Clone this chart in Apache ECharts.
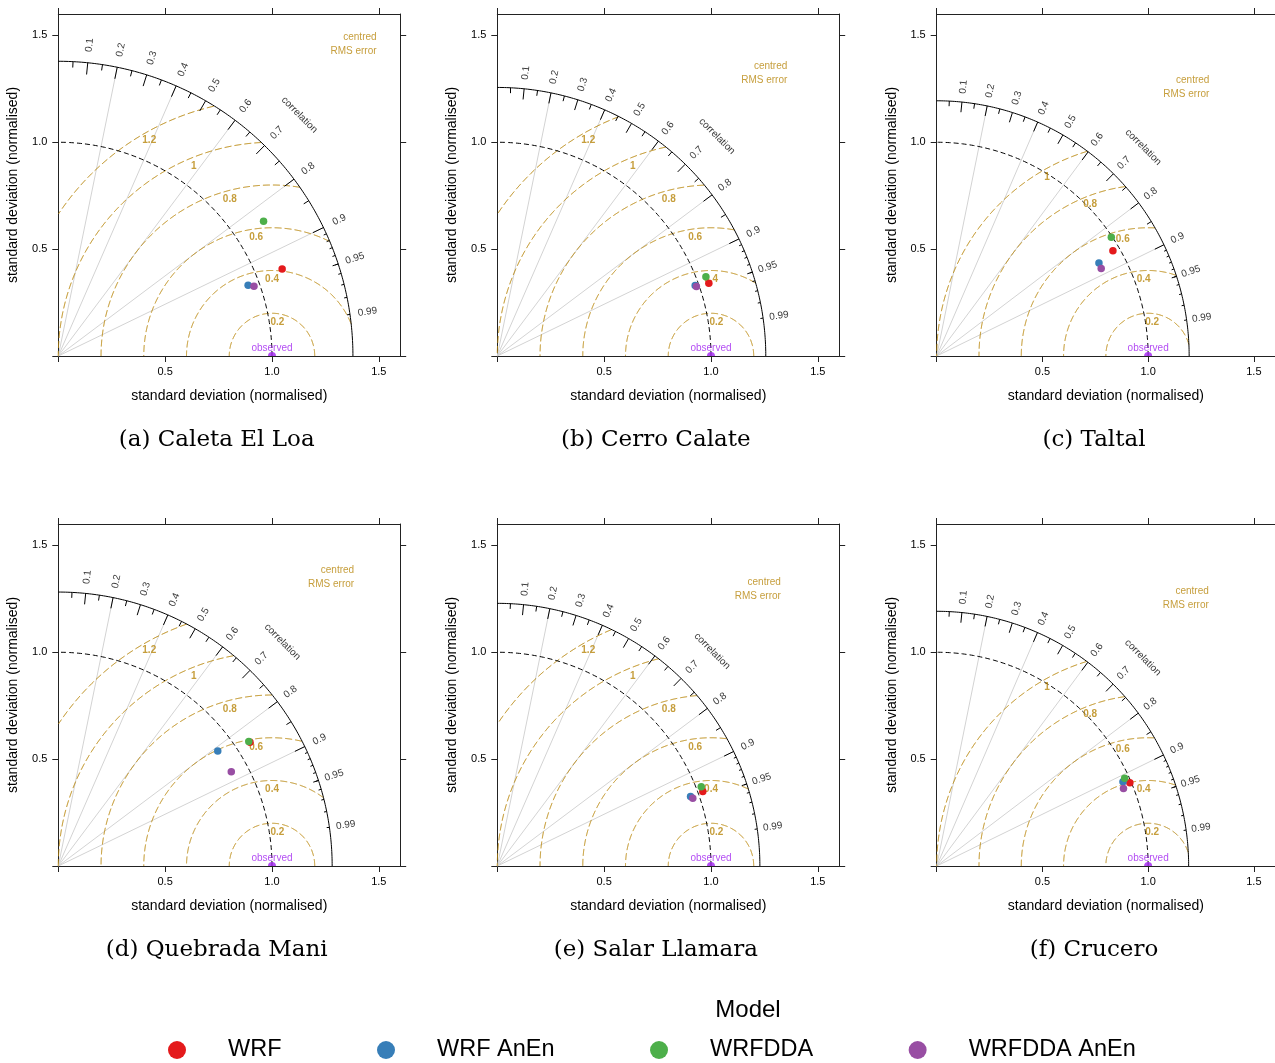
<!DOCTYPE html>
<html><head><meta charset="utf-8">
<script src="https://cdn.jsdelivr.net/npm/echarts@6/dist/echarts.min.js"></script>
<style>html,body{margin:0;padding:0;background:#fff}#c{width:1275px;height:1063px}</style>
</head><body><div id="c"></div>
<script>
// ---------------- data ----------------
const stations = ['(a) Caleta El Loa', '(b) Cerro Calate', '(c) Taltal', '(d) Quebrada Mani', '(e) Salar Llamara', '(f) Crucero'];
const models = ['WRF', 'WRF AnEn', 'WRFDDA', 'WRFDDA AnEn'];
// normalised standard deviation, one value per station
const sdWRF        = [1.124, 1.047, 0.968, 1.068, 1.023, 0.993];
const sdWRFAnEn    = [0.948, 0.983, 0.882, 0.920, 0.961, 0.965];
const sdWRFDDA     = [1.149, 1.044, 0.995, 1.065, 1.024, 0.979];
const sdWRFDDAAnEn = [0.972, 0.987, 0.879, 0.922, 0.968, 0.955];
// correlation with observations, one value per station
const corWRF        = [0.932, 0.9455, 0.861, 0.840, 0.940, 0.920];
const corWRFAnEn    = [0.937, 0.942, 0.870, 0.811, 0.941, 0.913];
const corWRFDDA     = [0.836, 0.935, 0.830, 0.837, 0.932, 0.908];
const corWRFDDAAnEn = [0.942, 0.944, 0.885, 0.878, 0.945, 0.925];
// axis / diagram tick values
const sdTickLabels = [0.5, 1.0, 1.5];
const sdTicks = [0, 0.5, 1.0, 1.5];
const corLabels = [0.1, 0.2, 0.3, 0.4, 0.5, 0.6, 0.7, 0.8, 0.9, 0.95, 0.99];
const corGridLines = [0.2, 0.4, 0.6, 0.8, 0.9];
const corBigTicks = [0.1, 0.2, 0.3, 0.4, 0.5, 0.6, 0.7, 0.8, 0.9];
const corMedTicks = [0.05, 0.15, 0.25, 0.35, 0.45, 0.55, 0.65, 0.75, 0.85, 0.95];
const corSmallTicks = [0.91, 0.92, 0.93, 0.94, 0.95, 0.96, 0.97, 0.98, 0.99];
const rmsStep = 0.2;

// ---------------- style / layout ----------------
const sdSets = [sdWRF, sdWRFAnEn, sdWRFDDA, sdWRFDDAAnEn];
const corSets = [corWRF, corWRFAnEn, corWRFDDA, corWRFDDAAnEn];
const colors = ['#E41A1C', '#377EB8', '#4DAF4A', '#984EA3'];
const GOLD = '#B8860B', OBS = '#A020F0';
const SANS = 'Liberation Sans, Arial, sans-serif';
const AXMAX = 1.6;
const lefts = [58.3, 497.3, 936.7], tops = [14, 524];
const GW = 341.9, GH = 342;
const capX = [216.7, 655.8, 1094], capY = [440, 950];

const grid = [], xAxis = [], yAxis = [], series = [], graphic = [];
const axisLineStyle = {color: '#222', width: 1};

for (let p = 0; p < 6; p++) {
  const col = p % 3, row = Math.floor(p / 3);
  grid.push({left: lefts[col], top: tops[row], width: GW, height: GH, containLabel: false});
  const baseAxis = {
    gridIndex: p, type: 'value', min: 0, max: AXMAX, interval: 0.5,
    axisLine: {show: true, onZero: false, lineStyle: axisLineStyle},
    axisTick: {show: true, inside: false, length: 6, customValues: sdTicks, lineStyle: axisLineStyle},
    splitLine: {show: false}
  };
  xAxis.push(Object.assign({}, baseAxis, {
    position: 'bottom',
    axisLabel: {show: true, customValues: sdTickLabels, formatter: v => v.toFixed(1), margin: 10, fontSize: 11, color: '#000', fontFamily: SANS},
    name: 'standard deviation (normalised)', nameLocation: 'middle', nameGap: 33,
    nameTextStyle: {fontSize: 14, color: '#000', fontFamily: SANS}
  }));
  xAxis.push(Object.assign({}, baseAxis, {position: 'top', axisLabel: {show: false}}));
  yAxis.push(Object.assign({}, baseAxis, {
    position: 'left',
    axisLabel: {show: true, customValues: sdTickLabels, formatter: v => v.toFixed(1), margin: 11, fontSize: 11, color: '#000', fontFamily: SANS},
    name: 'standard deviation (normalised)', nameLocation: 'middle', nameGap: 38,
    nameTextStyle: {fontSize: 14, color: '#000', fontFamily: SANS}
  }));
  yAxis.push(Object.assign({}, baseAxis, {position: 'right', axisLabel: {show: false}}));

  const xi = 2 * p, yi = 2 * p;
  const sds = sdSets.map(s => s[p]);
  const m = 1.2 * Math.max.apply(null, sds); // max radius of diagram

  const pol = (r, a) => [r * Math.cos(a), r * Math.sin(a)];
  const arc = (r) => { const pts = []; for (let i = 0; i <= 180; i++) pts.push(pol(r, Math.PI / 2 * i / 180)); return pts; };

  // grey correlation lines
  series.push({type: 'lines', coordinateSystem: 'cartesian2d', xAxisIndex: xi, yAxisIndex: yi, silent: true, z: 1,
    lineStyle: {color: '#D3D3D3', width: 1, opacity: 1},
    data: corGridLines.map(c => ({coords: [[0, 0], pol(m, Math.acos(c))]}))});

  // centred RMS arcs
  const gammas = [];
  for (let k = 1; k * rmsStep <= m + 1e-9; k++) gammas.push(Math.round(k * rmsStep * 10) / 10);
  const gArcs = gammas.map(g => {
    const pts = [];
    for (let i = 0; i <= 1000; i++) {
      const t = Math.PI * i / 1000;
      const x = 1 + g * Math.cos(t), y = g * Math.sin(t);
      if (x >= 0 && x * x + y * y <= m * m) pts.push([x, y]);
    }
    return {coords: pts};
  });
  series.push({type: 'lines', coordinateSystem: 'cartesian2d', xAxisIndex: xi, yAxisIndex: yi, polyline: true, silent: true, z: 2,
    lineStyle: {color: GOLD, width: 1, type: [7, 3], opacity: 1}, data: gArcs});

  // sd = 1 arc (dashed) and outer arc
  series.push({type: 'lines', coordinateSystem: 'cartesian2d', xAxisIndex: xi, yAxisIndex: yi, polyline: true, silent: true, z: 3,
    lineStyle: {color: '#000', width: 1, type: [5, 3], opacity: 1}, data: [{coords: arc(1)}]});
  series.push({type: 'lines', coordinateSystem: 'cartesian2d', xAxisIndex: xi, yAxisIndex: yi, polyline: true, silent: true, z: 3,
    lineStyle: {color: '#000', width: 1, opacity: 1}, data: [{coords: arc(m)}]});

  // correlation tick marks
  const tk = [];
  corBigTicks.forEach(c => { const a = Math.acos(c); tk.push({coords: [pol(m, a), pol(0.96 * m, a)]}); });
  corMedTicks.forEach(c => { const a = Math.acos(c); tk.push({coords: [pol(m, a), pol(0.98 * m, a)]}); });
  corSmallTicks.forEach(c => { const a = Math.acos(c); tk.push({coords: [pol(m, a), pol(0.99 * m, a)]}); });
  series.push({type: 'lines', coordinateSystem: 'cartesian2d', xAxisIndex: xi, yAxisIndex: yi, silent: true, z: 3,
    lineStyle: {color: '#000', width: 1, opacity: 1}, data: tk});

  const textSeries = (data, label, z) => ({type: 'scatter', xAxisIndex: xi, yAxisIndex: yi, silent: true, z: z || 5,
    symbolSize: 1, itemStyle: {color: 'rgba(0,0,0,0)'}, data: data,
    label: Object.assign({show: true, position: 'inside', formatter: '{b}', fontFamily: SANS}, label)});

  // correlation labels
  series.push(textSeries(corLabels.map(c => {
    const a = Math.acos(c);
    return {name: String(c), value: pol(1.06 * m, a), label: {rotate: a * 180 / Math.PI}};
  }), {fontSize: 10, color: '#000'}));
  series.push(textSeries([{name: 'correlation', value: pol(1.157 * m, Math.PI / 4), label: {rotate: -45}}], {fontSize: 10, color: '#000'}));

  // RMS labels
  const n = gammas.length;
  const aEnd = 118.6, aStart = n >= 6 ? 82.8 : 84.5;
  series.push(textSeries(gammas.map((g, i) => {
    const t = (aStart + (aEnd - aStart) * (n > 1 ? i / (n - 1) : 0)) * Math.PI / 180;
    return {name: String(g), value: [1 + g * Math.cos(t), g * Math.sin(t)]};
  }), {fontSize: 10, fontWeight: 'bold', color: GOLD, offset: [0, 9]}, 4));
  series.push(textSeries([{name: 'centred\nRMS error', value: [1.082 * m, 1.08 * m]}],
    {position: 'left', distance: 0, offset: [0, 7], fontSize: 10, lineHeight: 14, color: GOLD, align: 'right'}));

  // observed
  series.push({type: 'scatter', xAxisIndex: xi, yAxisIndex: yi, silent: true, z: 4,
    symbol: 'path://M-1 0 A1 1 0 0 1 1 0 Z', symbolSize: [8, 4], symbolOffset: [0, -2], symbolKeepAspect: false,
    itemStyle: {color: OBS}, data: [[1, 0]]});
  series.push(textSeries([{name: 'observed', value: [1, 0]}], {fontSize: 10, color: OBS, offset: [0, -8]}, 4));

  // model points
  models.forEach((name, k) => {
    const s = sdSets[k][p], r = corSets[k][p];
    series.push({type: 'scatter', name: name, xAxisIndex: xi, yAxisIndex: yi, z: 6,
      symbol: 'circle', symbolSize: 7.5, itemStyle: {color: colors[k], opacity: 1},
      data: [[s * r, s * Math.sqrt(1 - r * r)]]});
  });

  graphic.push({type: 'text', x: capX[col], y: capY[row], silent: true,
    style: {text: stations[p], align: 'center', verticalAlign: 'middle', font: '23px "DejaVu Serif", serif', fill: '#000'}});
}
graphic.push({type: 'text', x: 748, y: 1010, silent: true,
  style: {text: 'Model', align: 'center', verticalAlign: 'middle', font: '24px "Liberation Sans", Arial, sans-serif', fill: '#000'}});

const chart = echarts.init(document.getElementById('c'), null, {renderer: 'canvas'});
chart.setOption({
  animation: false,
  backgroundColor: '#fff',
  grid, xAxis, yAxis, series, graphic,
  legend: {data: models, left: 163, top: 1033, icon: 'circle', itemWidth: 18, itemHeight: 18, itemGap: 95.5,
    selectedMode: false,
    textStyle: {fontSize: 23.5, lineHeight: 24, color: '#000', fontFamily: SANS, padding: [0, 0, 0, 37]}}
});
</script></body></html>
